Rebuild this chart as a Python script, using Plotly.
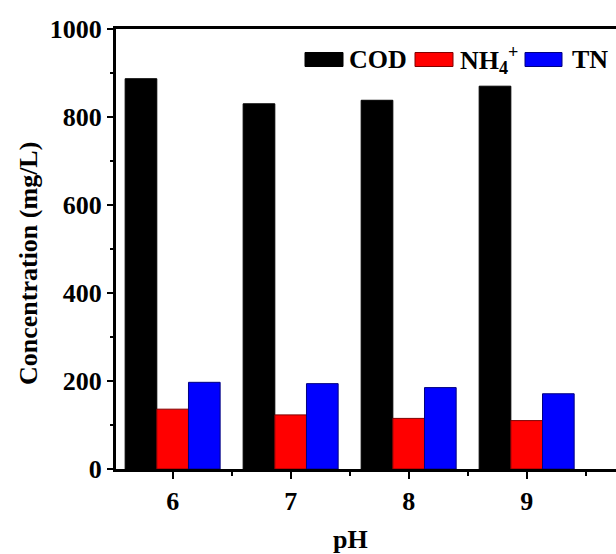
import plotly.graph_objects as go

ph = [6, 7, 8, 9]
cod = [887, 830, 838, 870]
nh4 = [136, 123, 115, 110]
tn = [197, 194, 185, 171]

series_names = ["COD", "NH<sub>4</sub><sup>+</sup>", "TN"]
fill_colors = ["#000000", "#ff0000", "#0000ff"]
line_colors = ["#000000", "#800000", "#000080"]

FONT = "Times New Roman, Liberation Serif, serif"

fig = go.Figure()
for vals, name, fc, lc in zip([cod, nh4, tn], series_names, fill_colors, line_colors):
    fig.add_trace(go.Bar(x=ph, y=vals, name=name, marker=dict(color=fc, line=dict(color=lc, width=1)),
                         showlegend=False))

L, T, B = 116, 29, 85
W, H = 616, 554
pw = W - L
ph_h = H - T - B

fig.update_layout(
    width=W, height=H,
    margin=dict(l=L, r=0, t=T, b=B),
    plot_bgcolor="white", paper_bgcolor="white",
    barmode="group", bargap=0.195, bargroupgap=0,
    font=dict(family=FONT, size=26, color="black"),
)
fig.update_xaxes(
    range=[5.52, 9.757], tickvals=ph, ticktext=[str(v) for v in ph],
    showgrid=False, zeroline=False,
    showline=True, linecolor="black", linewidth=3, mirror=True,
    ticks="outside", ticklen=7, tickwidth=2, tickcolor="black",
    minor=dict(tickvals=[6.5, 7.5, 8.5, 9.5], ticks="outside", ticklen=4, tickwidth=2, tickcolor="black"),
    tickfont=dict(family=FONT, size=26, color="black", weight="bold"),
)
fig.update_yaxes(
    range=[0, 1000], tickvals=[0, 200, 400, 600, 800, 1000],
    showgrid=False, zeroline=False,
    showline=True, linecolor="black", linewidth=3, mirror=False,
    ticks="outside", ticklen=6, tickwidth=2, tickcolor="black",
    minor=dict(tickvals=[100, 300, 500, 700, 900], ticks="outside", ticklen=3, tickwidth=2, tickcolor="black"),
    tickfont=dict(family=FONT, size=26, color="black", weight="bold"),
)

# axis titles
fig.add_annotation(text="<b>pH</b>", xref="paper", yref="paper", x=(350 - L) / pw, y=-(539 - (H - B)) / ph_h,
                   showarrow=False, font=dict(family=FONT, size=26, color="black"), xanchor="center", yanchor="middle")
fig.add_annotation(text="<b>Concentration (mg/L)</b>", xref="paper", yref="paper", x=-(L - 28) / pw,
                   y=((H - B) - 264) / ph_h, textangle=-90,
                   showarrow=False, font=dict(family=FONT, size=26, color="black"), xanchor="center", yanchor="middle")

# custom legend
sw = [(305, 343), (415, 453), (525, 562)]
tx = [347, 458, 570]
ycen = 59.5
for (x0, x1), t, name, fc, lc in zip(sw, tx, series_names, fill_colors, line_colors):
    fig.add_shape(type="rect", xref="paper", yref="paper",
                  x0=(x0 - L) / pw, x1=(x1 - L) / pw,
                  y0=((H - B) - (ycen + 7)) / ph_h, y1=((H - B) - (ycen - 7)) / ph_h,
                  fillcolor=fc, line=dict(color=lc, width=1))
    fig.add_annotation(text="<b>" + name + "</b>", xref="paper", yref="paper", x=(t - L) / pw,
                       y=((H - B) - ycen) / ph_h, xanchor="left", yanchor="middle", showarrow=False,
                       font=dict(family=FONT, size=26, color="black"))

fig.write_html("out.html")
